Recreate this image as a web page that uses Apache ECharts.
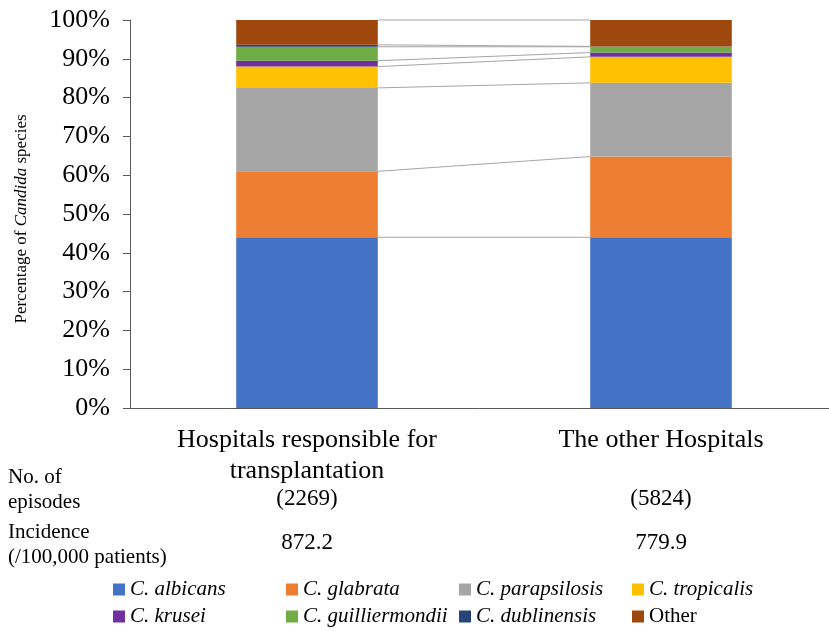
<!DOCTYPE html>
<html>
<head>
<meta charset="utf-8">
<script src="https://cdn.jsdelivr.net/npm/echarts@6/dist/echarts.min.js"></script>
<style>html,body{margin:0;padding:0;background:#fff;}#c{width:829px;height:631px;}</style>
</head>
<body>
<div id="c"></div>
<script>
const categories = ['Hospitals responsible for\ntransplantation', 'The other Hospitals'];
const episodes = ['(2269)', '(5824)'];
const incidence = ['872.2', '779.9'];
const speciesNames = ['C. albicans', 'C. glabrata', 'C. parapsilosis', 'C. tropicalis', 'C. krusei', 'C. guilliermondii', 'C. dublinensis', 'Other'];
const albicans = [44.0, 44.0];
const glabrata = [17.0, 20.8];
const parapsilosis = [21.5, 19.0];
const tropicalis = [5.5, 6.7];
const krusei = [1.5, 1.1];
const guilliermondii = [3.6, 1.5];
const dublinensis = [0.5, 0.1];
const other = [6.4, 6.8];
const yTicks = [0, 100, 10];

const seriesValues = [albicans, glabrata, parapsilosis, tropicalis, krusei, guilliermondii, dublinensis, other];
const colors = ['#4472C4', '#ED7D31', '#A5A5A5', '#FFC000', '#7030A0', '#70AD47', '#264478', '#9E480E'];
const FONT = "'Liberation Serif','Times New Roman',serif";

// cumulative boundaries for series lines
const cum = [0, 0];
const lineData = [];
seriesValues.forEach(arr => {
  cum[0] += arr[0]; cum[1] += arr[1];
  lineData.push([0, +cum[0].toFixed(3), +cum[1].toFixed(3)]);
});

const chart = echarts.init(document.getElementById('c'), null, {renderer: 'canvas'});
const series = seriesValues.map((arr, i) => ({
  name: speciesNames[i],
  type: 'bar',
  stack: 'total',
  barWidth: '40%',
  data: arr,
  itemStyle: {color: colors[i]},
  emphasis: {disabled: true}
}));
series.push({
  type: 'custom',
  name: 'serieslines',
  data: lineData,
  encode: {x: 0, y: 1},
  silent: true,
  z: 1,
  renderItem: function (params, api) {
    const a = api.coord([0, api.value(1)]);
    const b = api.coord([1, api.value(2)]);
    const half = api.size([1, 0])[0] * 0.2;
    return {type: 'line', shape: {x1: a[0] + half, y1: a[1], x2: b[0] - half, y2: b[1]},
      style: {stroke: '#a6a6a6', lineWidth: 1}};
  }
});

const legendRich = {
  i: {fontFamily: FONT, fontSize: 21, color: '#000', fontStyle: 'italic', lineHeight: 24, width: 150},
  n: {fontFamily: FONT, fontSize: 21, color: '#000', lineHeight: 24, width: 150}
};

chart.setOption({
  animation: false,
  backgroundColor: '#fff',
  grid: {left: 130, width: 708, top: 20, bottom: 223, outerBoundsMode: 'none'},
  xAxis: {
    type: 'category',
    data: categories,
    axisLine: {show: true, lineStyle: {color: '#595959', width: 1}},
    axisTick: {show: false},
    axisLabel: {fontFamily: FONT, fontSize: 26, color: '#000', lineHeight: 31, margin: 17, interval: 0}
  },
  yAxis: {
    type: 'value',
    min: yTicks[0], max: yTicks[1], interval: yTicks[2],
    splitLine: {show: false},
    axisLine: {show: true, lineStyle: {color: '#595959', width: 1}},
    axisTick: {show: true, length: 7, lineStyle: {color: '#595959'}},
    axisLabel: {formatter: '{value}%', fontFamily: FONT, fontSize: 26, color: '#000', margin: 20}
  },
  legend: {
    data: speciesNames,
    left: 108, top: 574, width: 690,
    itemWidth: 12, itemHeight: 12, itemGap: 6,
    icon: 'rect',
    selectedMode: false,
    formatter: function (name) { return name === 'Other' ? '{n|' + name + '}' : '{i|' + name + '}'; },
    textStyle: {
      fontFamily: FONT, fontSize: 21, color: '#000',
      rich: legendRich
    }
  },
  series: series
});

const gText = [];
gText.push({type: 'text', x: 22, y: 219, rotation: Math.PI / 2,
  style: {text: '{n|Percentage of }{i|Candida}{n| species}', align: 'center', verticalAlign: 'middle',
    rich: {
      n: {fontFamily: FONT, fontSize: 17, fill: '#000'},
      i: {fontFamily: FONT, fontSize: 17, fill: '#000', fontStyle: 'italic'}
    }}});
gText.push({type: 'text', left: 8, top: 465, style: {text: 'No. of\nepisodes', font: '21px ' + FONT, fill: '#000', lineHeight: 25}});
gText.push({type: 'text', left: 8, top: 520, style: {text: 'Incidence\n(/100,000 patients)', font: '21px ' + FONT, fill: '#000', lineHeight: 25}});
categories.forEach((c, i) => {
  const x = chart.convertToPixel({xAxisIndex: 0}, c);
  gText.push({type: 'text', x: x, y: 499, style: {text: episodes[i], font: '23px ' + FONT, fill: '#000', align: 'center', verticalAlign: 'middle'}});
  gText.push({type: 'text', x: x, y: 543, style: {text: incidence[i], font: '23px ' + FONT, fill: '#000', align: 'center', verticalAlign: 'middle'}});
});
chart.setOption({graphic: gText});
</script>
</body>
</html>
